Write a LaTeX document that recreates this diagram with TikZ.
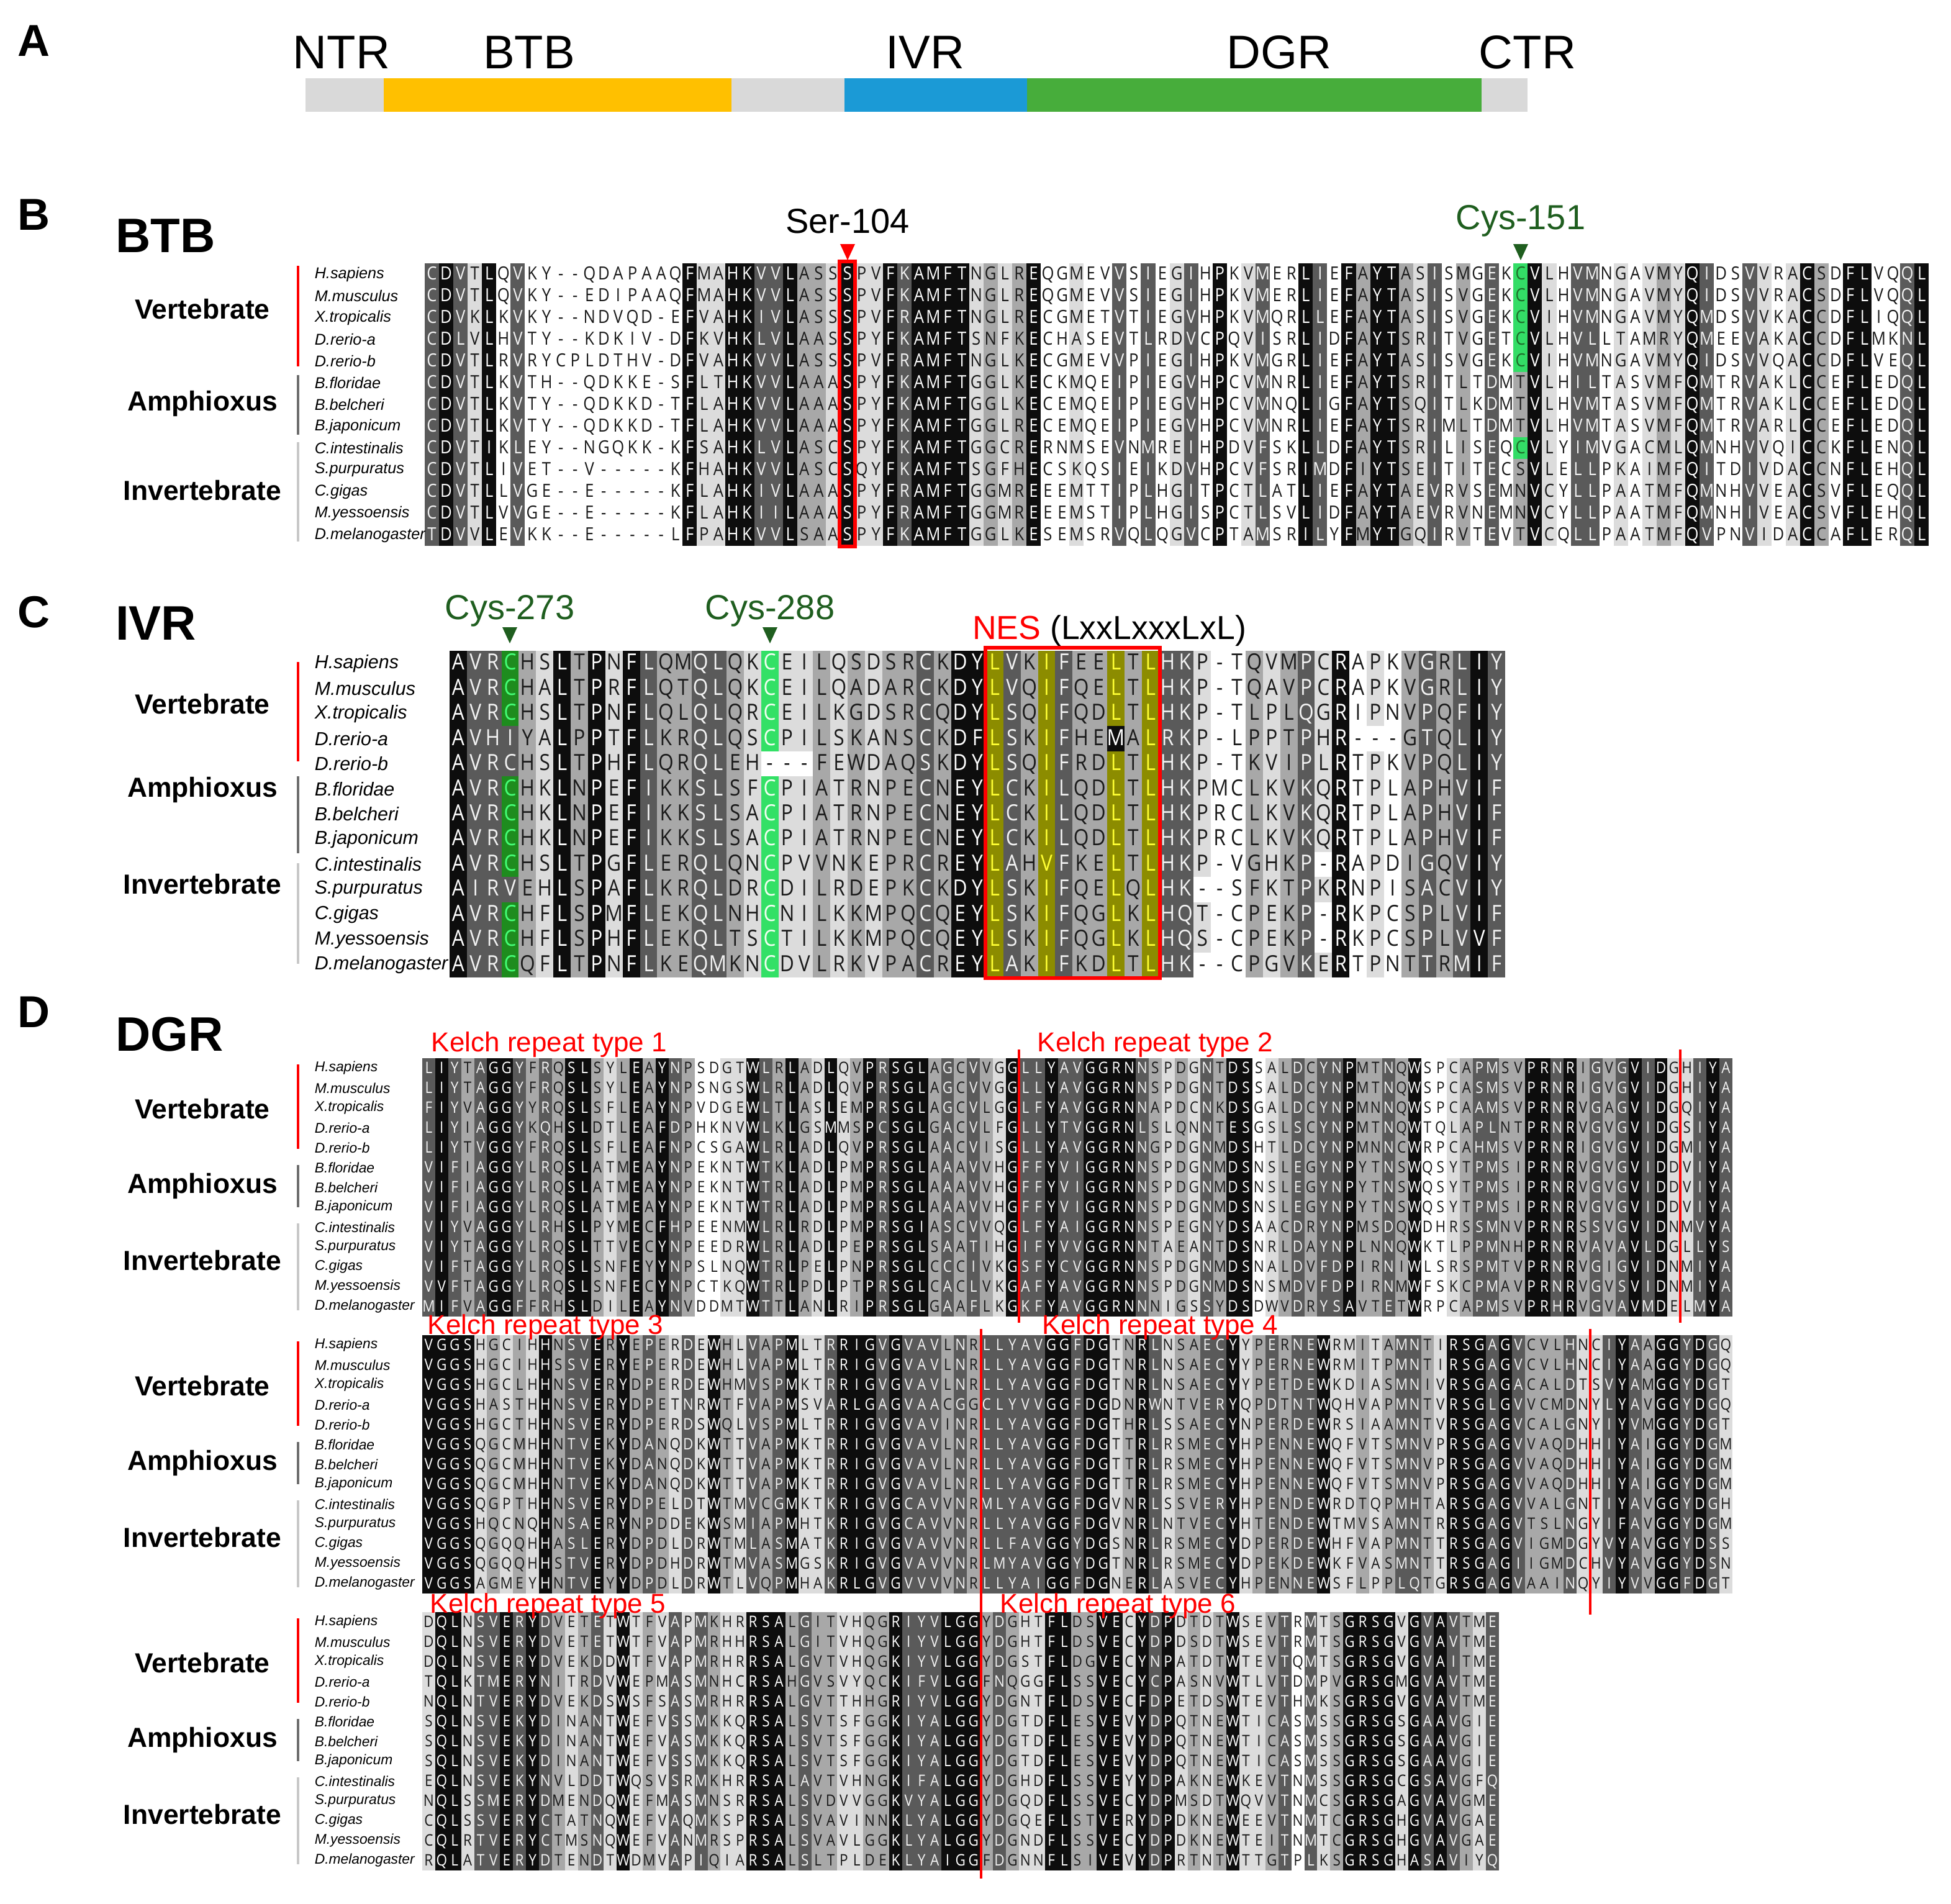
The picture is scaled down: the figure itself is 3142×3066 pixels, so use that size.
\documentclass[tikz,border=0pt]{standalone}
\usepackage{fontspec}
\setmainfont{Liberation Sans}
\newfontfamily\resfont[FakeStretch=0.88]{Open Sans}
\definecolor{lev0}{HTML}{FFFFFF}
\definecolor{lev1}{HTML}{DCDCDC}
\definecolor{lev2}{HTML}{A8A8A8}
\definecolor{lev3}{HTML}{5A5A5A}
\definecolor{lev4}{HTML}{0D0D0D}
\definecolor{levy}{HTML}{8C8C00}
\definecolor{levg}{HTML}{33DD66}
\definecolor{levG}{HTML}{1E8C1E}
\definecolor{levL}{HTML}{33E066}
\definecolor{tx0}{HTML}{1A1A1A}
\definecolor{tx1}{HTML}{1A1A1A}
\definecolor{tx2}{HTML}{1A1A1A}
\definecolor{tx3}{HTML}{F2F2F2}
\definecolor{tx4}{HTML}{FFFFFF}
\definecolor{txy}{HTML}{FFFF33}
\definecolor{txg}{HTML}{1F6E2A}
\definecolor{txG}{HTML}{44FF77}
\definecolor{txL}{HTML}{F0FFF0}
\definecolor{domgray}{HTML}{D9D9D9}
\definecolor{domyellow}{HTML}{FFC000}
\definecolor{domblue}{HTML}{1B9AD6}
\definecolor{domgreen}{HTML}{47AD3B}
\definecolor{cysdark}{HTML}{1F5E1F}
\definecolor{barD}{HTML}{6E6E6E}
\definecolor{barL}{HTML}{C8C8C8}
\newdimen\cw \newdimen\rh \newdimen\rdp
\makeatletter
\def\seqline#1#2{\edef\seq@tmp{\noexpand\seq@a#1\noexpand\@nil#2\noexpand\@nil}\seq@tmp}
\def\seq@a#1#2\@nil#3#4\@nil{%
  \if-#1\def\seq@l{0}\else\def\seq@l{#3}\fi
  \makebox[\cw][l]{\color{lev\seq@l}\rule[-\rdp]{\cw}{\rh}\hspace{-\cw}\makebox[\cw][c]{\color{tx\seq@l}#1}}%
  \ifx\relax#2\relax\expandafter\@gobble\else\expandafter\@firstofone\fi
  {\seq@a#2\@nil#4\@nil}}
\makeatother
\def\levB{343140300000000000411443342214114344441212400100303013040130043042442130203024103301012143003101420440034}
\def\levBg{3431403000000000004114433422141143444412124001003030130401300430424421302030g4103301012143003101420440034}
\def\levC{4333214241432233211112121223244y32y322y2y33100212314010232343}
\def\levCa{433G21424143223321L112121223244y32y322y2y33100212314010232343}
\def\levCd{433321424143223321L112121223244y32y32242y33100212314010232343}
\def\levCj{433321424143223321L112121223244y32y322y2y33100212314010232343}
\def\levDa{34323443232442124243200114324214124344423232143343344443212132440123233422324001233224434232343411343}
\def\levDb{44441212142334242321314213234113444343332323333344344124312233412323341121233214443432223113432443431}
\def\levDc{14413343432123141213132114442322112243334442321144224414341212411230312444414343213}
\newcommand\species{H.sapiens,M.musculus,X.tropicalis,D.rerio-a,D.rerio-b,B.floridae,B.belcheri,B.japonicum,C.intestinalis,S.purpuratus,C.gigas,M.yessoensis,D.melanogaster}
\begin{document}
\begin{tikzpicture}[x=0.25pt,y=-0.25pt,
  panel/.style={font=\bfseries\fontsize{18}{18}\selectfont},
  dom/.style={font=\fontsize{19}{19}\selectfont},
  region/.style={anchor=west,font=\bfseries\fontsize{19.5}{20}\selectfont},
  grp/.style={font=\bfseries\fontsize{11.1}{12}\selectfont},
  site/.style={font=\fontsize{14}{14}\selectfont},
  kelch/.style={anchor=west,inner sep=0pt,text=red,font=\fontsize{11}{12}\selectfont},
  rowbox/.style={anchor=north west,inner sep=0pt,outer sep=0pt},
  resB/.style={font=\resfont\fontsize{7.3}{7.3}\selectfont},
  resC/.style={font=\resfont\fontsize{9}{9}\selectfont},
  resD/.style={font=\resfont\fontsize{6.4}{6.4}\selectfont},
  spB/.style={anchor=west,inner sep=0pt,font=\itshape\fontsize{6.3}{6.3}\selectfont},
  spC/.style={anchor=west,inner sep=0pt,font=\itshape\fontsize{7.6}{7.6}\selectfont},
  spD/.style={anchor=west,inner sep=0pt,font=\itshape\fontsize{5.7}{5.7}\selectfont},
  gbar/.style={line width=1pt},
  kline/.style={red,line width=1pt}]
\useasboundingbox (0,0) rectangle (3142,3066);
\fill[white] (0,0) rectangle (3142,3066);
% ---------------- Panel A
\node[panel] (lA) at (54,66) {A};
\fill[domgray] (492,126) rectangle (618,180);
\fill[domyellow] (618,126) rectangle (1178,180);
\fill[domgray] (1178,126) rectangle (1360,180);
\fill[domblue] (1360,126) rectangle (1654,180);
\fill[domgreen] (1654,126) rectangle (2386,180);
\fill[domgray] (2386,126) rectangle (2460,180);
\node[dom] (tNTR) at (550,84) {NTR};
\node[dom] (tBTB) at (852,84) {BTB};
\node[dom] (tIVR) at (1490,84) {IVR};
\node[dom] (tDGR) at (2060,84) {DGR};
\node[dom] (tCTR) at (2460,84) {CTR};
% ---------------- Panel B
\node[panel] (lB) at (54,346) {B};
\node[region] (rB) at (172,380) {BTB};
\node[site] (ser) at (1365,356) {Ser-104};
\node[site,text=cysdark] (cys151) at (2449,356) {Cys-151};
\fill[red] (1353,393) -- (1377,393) -- (1365,419) -- cycle;
\fill[cysdark] (2437,393) -- (2461,393) -- (2449,419) -- cycle;
\cw=5.7675pt \rh=8.75pt \rdp=2.1pt
\foreach \s/\l [count=\i] in {%
CDVTLQVKY--QDAPAAQFMAHKVVLASSSPVFKAMFTNGLREQGMEVVSIEGIHPKVMERLIEFAYTASISMGEKCVLHVMNGAVMYQIDSVVRACSDFLVQQL/\levBg,
CDVTLQVKY--EDIPAAQFMAHKVVLASSSPVFKAMFTNGLREQGMEVVSIEGIHPKVMERLIEFAYTASISVGEKCVLHVMNGAVMYQIDSVVRACSDFLVQQL/\levBg,
CDVKLKVKY--NDVQD-EFVAHKIVLASSSPVFRAMFTNGLRECGMETVTIEGVHPKVMQRLLEFAYTASISVGEKCVIHVMNGAVMYQMDSVVKACCDFLIQQL/\levBg,
CDLVLHVTY--KDKIV-DFKVHKLVLAASSPYFKAMFTSNFKECHASEVTLRDVCPQVISRLIDFAYTSRITVGETCVLHVLLTAMRYQMEEVAKACCDFLMKNL/\levBg,
CDVTLRVRYCPLDTHV-DFVAHKVVLASSSPVFRAMFTNGLKECGMEVVPIEGIHPKVMGRLIEFAYTASISVGEKCVIHVMNGAVMYQIDSVVQACCDFLVEQL/\levBg,
CDVTLKVTH--QDKKE-SFLTHKVVLAAASPYFKAMFTGGLKECKMQEIPIEGVHPCVMNRLIEFAYTSRITLTDMTVLHILTASVMFQMTRVAKLCCEFLEDQL/\levB,
CDVTLKVTY--QDKKD-TFLAHKVVLAAASPYFKAMFTGGLKECEMQEIPIEGVHPCVMNQLIGFAYTSQITLKDMTVLHVMTASVMFQMTRVAKLCCEFLEDQL/\levB,
CDVTLKVTY--QDKKD-TFLAHKVVLAAASPYFKAMFTGGLRECEMQEIPIEGVHPCVMNRLIEFAYTSRIMLTDMTVLHVMTASVMFQMTRVARLCCEFLEDQL/\levB,
CDVTIKLEY--NGQKK-KFSAHKLVLASCSPYFKAMFTGGCRERNMSEVNMREIHPDVFSKLLDFAYTSRILISEQCVLYIMVGACMLQMNHVVQICCKFLENQL/\levBg,
CDVTLIVET--V-----KFHAHKVVLASCSQYFKAMFTSGFHECSKQSIEIKDVHPCVFSRIMDFIYTSEITITECSVLELLPKAIMFQITDIVDACCNFLEHQL/\levB,
CDVTLLVGE--E-----KFLAHKIVLAAASPYFRAMFTGGMREEEMTTIPLHGITPCTLATLIEFAYTAEVRVSEMNVCYLLPAATMFQMNHVVEACSVFLEQQL/\levB,
CDVTLVVGE--E-----KFLAHKIILAAASPYFRAMFTGGMREEEMSTIPLHGISPCTLSVLIDFAYTAEVRVNEMNVCYLLPAATMFQMNHIVEACSVFLEHQL/\levB,
TDVVLEVKK--E-----LFPAHKVVLSAASPYFKAMFTGGLKESEMSRVQLQGVCPTAMSRILYFMYTGQIRVTEVTVCQLLPAATMFQVPNVIDACCAFLERQL/\levB}
  \node[rowbox,resB] (b\i) at (684,{424+35*(\i-1)}) {\seqline{\s}{\l}};
\draw[red,line width=1.5pt] (1352,421) rectangle (1377,880);
\foreach \n [count=\i] in \species
  \node[spB] (nb\i) at (506,{424+35*(\i-0.5)}) {\n};
\node[grp] (vB) at (326,498) {Vertebrate};
\node[grp] (aB) at (326,650) {Amphioxus};
\node[grp] (iB) at (326,790) {Invertebrate};
\draw[gbar,red] (480,428) -- (480,590);
\draw[gbar,barD] (480,604) -- (480,700);
\draw[gbar,barL] (480,712) -- (480,872);
% ---------------- Panel C
\node[panel] (lC) at (54,986) {C};
\node[region] (rC) at (172,1004) {IVR};
\node[site,text=cysdark] (cys273) at (821,984) {Cys-273};
\node[site,text=cysdark] (cys288) at (1240,984) {Cys-288};
\fill[cysdark] (809,1010) -- (833,1010) -- (821,1036) -- cycle;
\fill[cysdark] (1228,1010) -- (1252,1010) -- (1240,1036) -- cycle;
\node[site,anchor=west,font=\fontsize{13.4}{14}\selectfont] (nes) at (1552,1016) {\textcolor{red}{NES} (LxxLxxxLxL)};
\cw=6.9675pt \rh=10.115pt \rdp=2.43pt
\foreach \s/\l [count=\i] in {%
AVRCHSLTPNFLQMQLQKCEILQSDSRCKDYLVKIFEELTLHKP-TQVMPCRAPKVGRLIY/\levCa,
AVRCHALTPRFLQTQLQKCEILQADARCKDYLVQIFQELTLHKP-TQAVPCRAPKVGRLIY/\levCa,
AVRCHSLTPNFLQLQLQRCEILKGDSRCQDYLSQIFQDLTLHKP-TLPLQGRIPNVPQFIY/\levCa,
AVHIYALPPTFLKRQLQSCPILSKANSCKDFLSKIFHEMALRKP-LPPTPHR---GTQLIY/\levCd,
AVRCHSLTPHFLQRQLEH---FEWDAQSKDYLSQIFRDLTLHKP-TKVIPLRTPKVPQLIY/\levC,
AVRCHKLNPEFIKKSLSFCPIATRNPECNEYLCKILQDLTLHKPMCLKVKQRTPLAPHVIF/\levCa,
AVRCHKLNPEFIKKSLSACPIATRNPECNEYLCKILQDLTLHKPRCLKVKQRTPLAPHVIF/\levCa,
AVRCHKLNPEFIKKSLSACPIATRNPECNEYLCKILQDLTLHKPRCLKVKQRTPLAPHVIF/\levCa,
AVRCHSLTPGFLERQLQNCPVVNKEPRCREYLAHVFKELTLHKP-VGHKP-RAPDIGQVIY/\levCa,
AIRVEHLSPAFLKRQLDRCDILRDEPKCKDYLSKIFQELQLHK--SFKTPKRNPISACVIY/\levCj,
AVRCHFLSPMFLEKQLNHCNILKKMPQCQEYLSKIFQGLKLHQT-CPEKP-RKPCSPLVIF/\levCa,
AVRCHFLSPHFLEKQLTSCTILKKMPQCQEYLSKIFQGLKLHQS-CPEKP-RKPCSPLVVF/\levCa,
AVRCQFLTPNFLKEQMKNCDVLRKVPACREYLAKIFKDLTLHK--CPGVKERTPNTTRMIF/\levCa}
  \node[rowbox,resC] (c\i) at (724,{1048+40.46*(\i-1)}) {\seqline{\s}{\l}};
\draw[red,line width=1.5pt] (1587,1043) rectangle (1868,1575);
\foreach \n [count=\i] in \species
  \node[spC] (nc\i) at (506,{1048+40.46*(\i-0.5)}) {\n};
\node[grp] (vC) at (326,1134) {Vertebrate};
\node[grp] (aC) at (326,1272) {Amphioxus};
\node[grp] (iC) at (326,1424) {Invertebrate};
\draw[gbar,red] (480,1066) -- (480,1226);
\draw[gbar,barD] (480,1250) -- (480,1374);
\draw[gbar,barL] (480,1390) -- (480,1552);
% ---------------- Panel D
\node[panel] (lD) at (54,1630) {D};
\node[region] (rD) at (172,1666) {DGR};
\cw=5.2225pt \rh=8pt \rdp=1.92pt
\foreach \s [count=\i] in {%
LIYTAGGYFRQSLSYLEAYNPSDGTWLRLADLQVPRSGLAGCVVGGLLYAVGGRNNSPDGNTDSSALDCYNPMTNQWSPCAPMSVPRNRIGVGVIDGHIYA,
LIYTAGGYFRQSLSYLEAYNPSNGSWLRLADLQVPRSGLAGCVVGGLLYAVGGRNNSPDGNTDSSALDCYNPMTNQWSPCASMSVPRNRIGVGVIDGHIYA,
FIYVAGGYYRQSLSFLEAYNPVDGEWLTLASLEMPRSGLAGCVLGGLFYAVGGRNNAPDCNKDSGALDCYNPMNNQWSPCAAMSVPRNRVGAGVIDGQIYA,
LIYIAGGYKQHSLDTLEAFDPHKNVWLKLGSMMSPCSGLGACVLFGLLYTVGGRNLSLQNNTESGSLSCYNPMTNQWTQLAPLNTPRNRVGVGVIDGSIYA,
LIYTVGGYFRQSLSFLEAFNPCSGAWLRLADLQVPRSGLAACVISGLLYAVGGRNNGPDGNMDSHTLDCYNPMNNCWRPCAHMSVPRNRIGVGVIDGMIYA,
VIFIAGGYLRQSLATMEAYNPEKNTWTKLADLPMPRSGLAAAVVHGFFYVIGGRNNSPDGNMDSNSLEGYNPYTNSWQSYTPMSIPRNRVGVGVIDDVIYA,
VIFIAGGYLRQSLATMEAYNPEKNTWTRLADLPMPRSGLAAAVVHGFFYVIGGRNNSPDGNMDSNSLEGYNPYTNSWQSYTPMSIPRNRVGVGVIDDVIYA,
VIFIAGGYLRQSLATMEAYNPEKNTWTRLADLPMPRSGLAAAVVHGFFYVIGGRNNSPDGNMDSNSLEGYNPYTNSWQSYTPMSIPRNRVGVGVIDDVIYA,
VIYVAGGYLRHSLPYMECFHPEENMWLRLRDLPMPRSGIASCVVQGLFYAIGGRNNSPEGNYDSAACDRYNPMSDQWDHRSSMNVPRNRSSVGVIDNMVYA,
VIYTAGGYLRQSLTTVECYNPEEDRWLRLADLPEPRSGLSAATIHGIFYVVGGRNNTAEANTDSNRLDAYNPLNNQWKTLPPMNHPRNRVAVAVLDGLLYS,
VIFTAGGYLRQSLSNFEYYNPSLNQWTRLPELPNPRSGLCCCIVKGSFYCVGGRNNSPDGNMDSNALDVFDPIRNIWLSRSPMTVPRNRVGIGVIDNMIYA,
VVFTAGGYLRQSLSNFECYNPCTKQWTRLPDLPTPRSGLCACLVKGAFYAVGGRNNSPDGNMDSNSMDVFDPIRNMWFSKCPMAVPRNRVGVSVIDNMIYA,
MIFVAGGFFRHSLDILEAYNVDDMTWTTLANLRIPRSGLGAAFLKGKFYAVGGRNNNIGSSYDSDWVDRYSAVTETWRPCAPMSVPRHRVGVAVMDELMYA}
  \node[rowbox,resD] (d\i) at (680,{1704+32*(\i-1)}) {\seqline{\s}{\levDa}};
\foreach \s [count=\i] in {%
VGGSHGCIHHNSVERYEPERDEWHLVAPMLTRRIGVGVAVLNRLLYAVGGFDGTNRLNSAECYYPERNEWRMITAMNTIRSGAGVCVLHNCIYAAGGYDGQ,
VGGSHGCIHHSSVERYEPERDEWHLVAPMLTRRIGVGVAVLNRLLYAVGGFDGTNRLNSAECYYPERNEWRMITPMNTIRSGAGVCVLHNCIYAAGGYDGQ,
VGGSHGCLHHNSVERYDPERDEWHMVSPMKTRRIGVGVAVLNRLLYAVGGFDGTNRLNSAECYYPETDEWKDIASMNIVRSGAGACALDTSVYAMGGYDGT,
VGGSHASTHHNSVERYDPETNRWTFVAPMSVARLGAGVAACGGCLYVVGGFDGDNRWNTVERYQPDTNTWQHVAPMNTVRSGLGVVCMDNYLYAVGGYDGQ,
VGGSHGCTHHNSVERYDPERDSWQLVSPMLTRRIGVGVAVINRLLYAVGGFDGTHRLSSAECYNPERDEWRSIAAMNTVRSGAGVCALGNYIYVMGGYDGT,
VGGSQGCMHHNTVEKYDANQDKWTTVAPMKTRRIGVGVAVLNRLLYAVGGFDGTTRLRSMECYHPENNEWQFVTSMNVPRSGAGVVAQDHHIYAIGGYDGM,
VGGSQGCMHHNTVEKYDANQDKWTTVAPMKTRRIGVGVAVLNRLLYAVGGFDGTTRLRSMECYHPENNEWQFVTSMNVPRSGAGVVAQDHHIYAIGGYDGM,
VGGSQGCMHHNTVEKYDANQDKWTTVAPMKTRRIGVGVAVLNRLLYAVGGFDGTTRLRSMECYHPENNEWQFVTSMNVPRSGAGVVAQDHHIYAIGGYDGM,
VGGSQGPTHHNSVERYDPELDTWTMVCGMKTKRIGVGCAVVNRMLYAVGGFDGVNRLSSVERYHPENDEWRDTQPMHTARSGAGVVALGNTIYAVGGYDGH,
VGGSHQCNQHNSAERYNPDDEKWSMIAPMHTKRIGVGCAVVNRLLYAVGGFDGVNRLNTVECYHTENDEWTMVSAMNTRRSGAGVTSLNGYIFAVGGYDGM,
VGGSQGQQHHASLERYDPDLDRWTMLASMATKRIGVGVAVVNRLLFAVGGYDGSNRLRSMECYDPERDEWHFVAPMNTTRSGAGVIGMDGYVYAVGGYDSS,
VGGSQGQQHHSTVERYDPDHDRWTMVASMGSKRIGVGVAVVNRLMYAVGGYDGTNRLRSMECYDPEKDEWKFVASMNTTRSGAGIIGMDCHVYAVGGYDSN,
VGGSAGMEYHNTVEYYDPDLDRWTLVQPMHAKRLGVGVVVVNRLLYAIGGFDGNERLASVECYHPENNEWSFLPPLQTGRSGAGVAAINQYIYVVGGFDGT}
  \node[rowbox,resD] (e\i) at (680,{2150+32*(\i-1)}) {\seqline{\s}{\levDb}};
\foreach \s [count=\i] in {%
DQLNSVERYDVETETWTFVAPMKHRRSALGITVHQGRIYVLGGYDGHTFLDSVECYDPDTDTWSEVTRMTSGRSGVGVAVTME,
DQLNSVERYDVETETWTFVAPMRHHRSALGITVHQGKIYVLGGYDGHTFLDSVECYDPDSDTWSEVTRMTSGRSGVGVAVTME,
DQLNSVERYDVEKDDWTFVAPMRHRRSALGVTVHQGKIYVLGGYDGSTFLDGVECYNPATDTWTEVTQMTSGRSGVGVAITME,
TQLKTMERYNITRDVWEPMASMNHCRSAHGVSVYQCKIFVLGGFNQGGFLSSVECYCPASNVWTLVTDMPVGRSGMGVAVTME,
NQLNTVERYDVEKDSWSFSASMRHRRSALGVTTHHGRIYVLGGYDGNTFLDSVECFDPETDSWTEVTHMKSGRSGVGVAVTME,
SQLNSVEKYDINANTWEFVSSMKKQRSALSVTSFGGKIYALGGYDGTDFLESVEVYDPQTNEWTICASMSSGRSGSGAAVGIE,
SQLNSVEKYDINANTWEFVASMKKQRSALSVTSFGGKIYALGGYDGTDFLESVEVYDPQTNEWTICASMSSGRSGSGAAVGIE,
SQLNSVEKYDINANTWEFVSSMKKQRSALSVTSFGGKIYALGGYDGTDFLESVEVYDPQTNEWTICASMSSGRSGSGAAVGIE,
EQLNSVEKYNVLDDTWQSVSRMKHRRSALAVTVHNGKIFALGGYDGHDFLSSVEYYDPAKNEWKEVTNMSSGRSGCGSAVGFQ,
NQLSSMERYDMENDQWEFMASMNSRRSALSVDVVGGKVYALGGYDGQDFLSSVECYDPMSDTWQVVTNMCSGRSGAGVAVGME,
CQLSSVERYCTATNQWEFVAQMKSPRSALSVAVINNKLYALGGYDGQEFLSTVERYDPDKNEWEEVTNMTCGRSGHGVAVGAE,
CQLRTVERYCTMSNQWEFVANMRSPRSALSVAVLGGKLYALGGYDGNDFLSSVECYDPDKNEWTEITNMTCGRSGHGVAVGAE,
RQLATVERYDTENDTWDMVAPIQIARSALSLTPLDEKLYAIGGFDGNNFLSIVEVYDPRTNTWTTGTPLKSGRSGHASAVIYQ}
  \node[rowbox,resD] (f\i) at (680,{2596+32*(\i-1)}) {\seqline{\s}{\levDc}};
\newcommand\dblock[2]{%
  \foreach \n [count=\i] in \species
    \node[spD] (n#1\i) at (506,{#2+32*(\i-0.5)}) {\n};
  \node[grp] (v#1) at (326,{#2+82}) {Vertebrate};
  \node[grp] (a#1) at (326,{#2+206}) {Amphioxus};
  \node[grp] (i#1) at (326,{#2+326}) {Invertebrate};
  \draw[gbar,red] (480,{#2+10}) -- (480,{#2+146});
  \draw[gbar,barD] (480,{#2+172}) -- (480,{#2+240});
  \draw[gbar,barL] (480,{#2+266}) -- (480,{#2+406});
}
\dblock{p}{1704}
\dblock{q}{2150}
\dblock{s}{2596}
\draw[kline] (1641,1690) -- (1641,2130);
\draw[kline] (2706,1690) -- (2706,2130);
\draw[kline] (1580,2140) -- (1580,3025);
\draw[kline] (2561,2140) -- (2561,2600);
\node[kelch] (k1) at (694,1682) {Kelch repeat type 1};
\node[kelch] (k2) at (1670,1682) {Kelch repeat type 2};
\node[kelch] (k3) at (688,2137) {Kelch repeat type 3};
\node[kelch] (k4) at (1678,2137) {Kelch repeat type 4};
\node[kelch] (k5) at (692,2586) {Kelch repeat type 5};
\node[kelch] (k6) at (1610,2586) {Kelch repeat type 6};
\end{tikzpicture}
\end{document}
